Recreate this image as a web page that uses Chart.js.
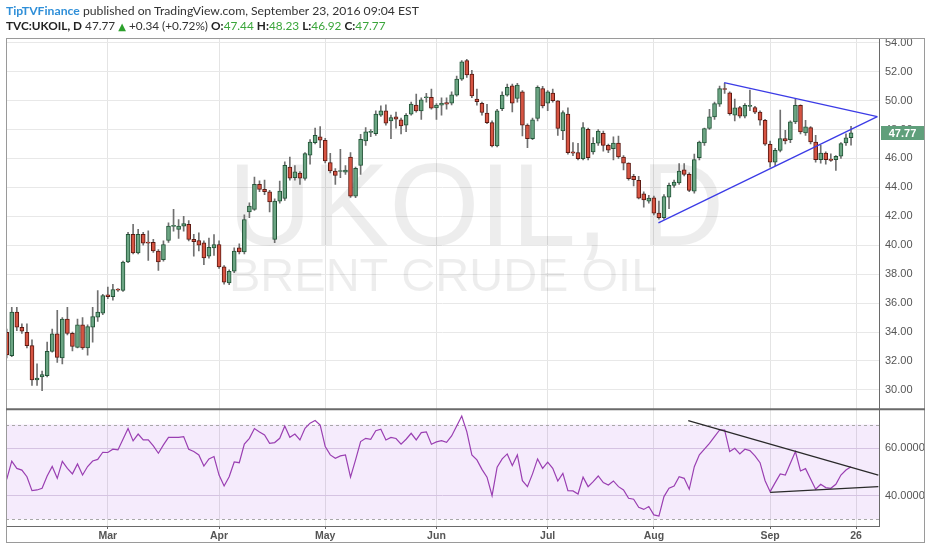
<!DOCTYPE html>
<html>
<head>
<meta charset="utf-8">
<script src="https://cdn.jsdelivr.net/npm/chart.js@4.4.0/dist/chart.umd.min.js"></script>
<style>
  html, body { margin: 0; padding: 0; background: #fff; }
  #wrap { position: relative; width: 932px; height: 550px; overflow: hidden; background: #fff; }
  #c { position: absolute; left: 0; top: 0; }
  .hdr { position: absolute; left: 6px; white-space: nowrap; font-family: Lato, "Open Sans", sans-serif; color: #333; }
  #h1 { top: 3px; font-size: 12.2px; }
  #h2 { top: 18px; font-size: 11.8px; }
  .tv { color: #2f8fd8; font-weight: 700; }
  .g { color: #3aa53a; }
  .tri { color: #2ca02c; font-family: "DejaVu Sans", sans-serif; font-size: 10px; }
  b { font-weight: 700; color: #222; }
</style>
</head>
<body>
<div id="wrap">
  <canvas id="c" width="932" height="550"></canvas>
  <div class="hdr" id="h1"><span class="tv">TipTVFinance</span> published on TradingView.com, September 23, 2016 09:04 EST</div>
  <div class="hdr" id="h2"><b>TVC:UKOIL, D</b> 47.77 <span class="tri">▲</span> +0.34 (+0.72%) <b>O:</b><span class="g">47.44</span> <b>H:</b><span class="g">48.23</span> <b>L:</b><span class="g">46.92</span> <b>C:</b><span class="g">47.77</span></div>
</div>
<script>
// daily bars, 2 Feb 2016 .. 23 Sep 2016 (index 0 = first bar)
const tickIdx = [20, 42, 63, 85, 107, 128, 151, 168];
const tickLabels = ['Mar', 'Apr', 'May', 'Jun', 'Jul', 'Aug', 'Sep', '26'];
const priceTicks = [30, 32, 34, 36, 38, 40, 42, 44, 46, 48, 50, 52, 54];
const rsiTicks = [40, 60];

const openP = [33.98,32.36,35.37,34.33,33.98,33.06,30.68,30.90,30.98,32.66,
  33.87,32.20,34.90,33.90,32.94,34.49,32.90,34.33,35.02,35.30,
  36.57,36.45,36.94,36.87,38.84,40.75,39.46,40.75,40.20,40.20,
  39.60,39.00,40.33,41.30,41.10,41.32,41.44,40.40,40.33,40.17,
  39.24,39.82,40.05,38.50,37.40,38.20,39.82,39.54,42.31,42.48,
  44.21,43.86,43.70,40.40,43.05,43.24,45.41,44.67,44.99,44.62,
  46.22,47.10,47.49,47.26,45.71,45.13,45.10,45.06,46.10,43.40,
  45.52,47.21,47.80,47.72,48.99,49.29,48.60,48.88,48.67,48.30,
  49.06,49.69,49.29,50.20,50.22,49.50,49.69,49.87,49.82,50.38,
  51.49,52.76,51.84,50.10,49.82,49.13,48.48,46.87,49.45,50.38,
  51.03,50.15,50.61,48.30,47.37,48.76,50.84,49.82,50.52,49.99,
  47.90,49.06,46.45,46.40,45.99,48.02,46.45,47.05,47.74,46.91,
  46.68,47.07,46.10,45.68,44.76,44.48,43.56,43.05,43.28,42.22,
  41.90,43.33,44.14,44.30,45.22,44.90,43.74,46.05,47.07,48.07,
  48.87,49.75,50.84,50.54,49.00,49.52,48.92,49.60,49.52,49.20,
  48.64,46.98,45.75,46.56,47.37,47.30,48.53,49.68,47.76,48.13,
  47.14,45.92,46.38,45.96,45.92,46.15,47.07,47.44];
const highP = [34.20,35.70,35.70,34.56,34.56,33.45,31.80,31.30,33.30,34.20,
  35.50,35.00,35.70,34.00,34.90,34.99,34.50,35.70,36.87,36.60,
  37.10,37.30,37.00,38.90,40.90,41.45,41.10,40.90,41.00,40.40,
  39.70,40.30,41.55,42.48,41.78,42.00,41.70,40.75,40.86,40.30,
  40.50,40.74,40.30,38.60,38.30,39.82,40.10,42.10,42.94,44.72,
  44.45,44.50,43.80,43.20,44.44,45.76,46.10,45.50,45.10,46.40,
  47.30,48.10,48.20,47.40,46.36,45.30,46.63,45.50,46.40,45.40,
  47.67,48.14,48.00,49.29,49.64,49.70,49.00,49.20,48.80,49.10,
  49.90,50.45,50.20,50.50,50.80,49.80,50.20,50.20,50.60,51.70,
  52.76,52.85,52.10,50.80,49.90,49.75,48.60,49.40,50.60,51.14,
  51.14,51.20,50.70,48.40,48.80,51.03,50.98,50.70,50.80,50.00,
  49.30,49.50,47.10,47.05,48.48,48.10,47.45,48.00,47.90,47.00,
  47.50,47.55,46.20,45.70,44.90,44.76,43.70,43.45,43.40,43.05,
  43.50,44.30,44.50,45.64,45.64,45.00,46.30,47.20,48.10,49.40,
  49.90,51.00,51.20,50.60,50.10,49.60,49.80,50.72,49.60,49.30,
  48.70,47.20,46.70,49.34,47.95,48.60,50.08,49.70,48.64,48.20,
  47.60,46.90,46.45,46.32,46.20,47.10,47.70,48.23];
const lowP = [32.20,32.30,34.10,33.90,32.90,30.30,30.30,29.94,30.90,32.60,
  31.90,31.80,33.80,32.70,32.90,32.80,32.40,33.30,34.74,35.20,
  36.30,36.20,36.80,36.80,38.80,39.40,39.40,40.00,38.95,39.50,
  38.25,38.90,40.20,40.98,40.47,40.98,40.30,39.24,39.60,38.66,
  39.10,39.30,38.40,37.30,37.28,38.10,39.40,39.40,41.90,42.40,
  43.70,43.50,42.30,40.17,42.90,43.10,44.50,44.50,44.20,44.50,
  45.60,47.00,46.75,45.70,45.00,44.21,44.67,44.90,43.30,43.28,
  44.90,46.90,47.50,47.60,48.90,48.30,47.37,48.10,47.70,47.85,
  49.00,49.20,48.70,49.90,49.40,48.70,49.00,49.40,49.70,50.30,
  51.40,51.60,50.20,49.69,49.00,48.40,46.80,46.80,49.30,50.30,
  49.22,49.90,47.56,46.75,47.30,48.60,49.50,49.30,49.90,47.60,
  47.30,46.30,46.20,45.90,45.90,45.90,46.30,46.90,46.50,46.40,
  45.90,46.00,45.20,44.50,44.10,43.20,42.63,42.90,42.10,41.80,
  41.80,42.52,44.00,44.20,44.80,43.70,43.60,45.90,46.90,48.00,
  48.70,49.60,50.50,49.00,48.60,48.80,48.80,49.30,49.10,48.30,
  46.90,45.40,45.50,46.45,47.00,47.10,48.40,47.70,47.60,47.00,
  45.75,45.68,45.60,45.80,45.17,46.00,46.90,46.92];
const closeP = [32.41,35.37,34.33,34.05,33.06,30.68,30.82,31.05,32.66,33.87,
  32.25,34.90,33.90,33.00,34.49,32.90,34.37,35.07,35.37,36.52,
  36.45,36.94,36.90,38.84,40.75,39.46,40.75,40.15,40.15,39.60,
  38.85,40.05,41.32,41.32,41.32,41.50,40.40,40.24,40.00,39.13,
  39.86,40.04,38.50,37.44,38.20,39.59,39.54,41.78,42.70,44.21,
  43.86,43.70,42.99,43.05,43.75,45.53,44.63,45.07,44.63,46.33,
  47.14,47.60,47.26,45.83,45.13,44.83,45.13,45.20,43.40,45.32,
  47.33,47.84,47.85,49.06,49.29,48.44,48.83,48.72,48.25,48.99,
  49.76,49.29,50.06,50.22,49.48,49.69,49.82,49.75,50.40,51.49,
  52.69,51.77,50.33,49.92,49.18,48.48,46.87,49.29,50.38,50.91,
  49.82,51.07,48.30,47.37,48.67,50.91,49.64,50.61,49.99,48.07,
  49.18,46.40,46.36,45.99,48.14,46.06,47.05,47.90,46.91,46.58,
  47.07,46.10,45.68,44.60,44.53,43.26,43.14,43.26,42.22,41.90,
  43.37,44.14,44.37,45.13,44.90,43.79,45.92,47.14,48.07,48.87,
  49.80,50.84,50.77,49.10,49.50,48.92,49.68,49.62,49.20,48.64,
  46.98,45.75,46.56,47.37,47.21,48.53,49.68,47.83,48.18,47.14,
  45.92,46.38,45.92,45.87,46.15,47.03,47.43,47.77];
const rsi = [46.9,54.6,51.5,50.8,48.0,42.1,42.4,43.1,48.3,52.3,
  47.3,54.5,51.5,49.2,53.4,48.7,52.3,54.6,55.3,58.3,
  58.2,59.6,59.3,63.8,68.3,63.1,66.0,63.5,63.5,61.0,
  57.9,61.4,64.6,64.6,64.6,64.9,59.6,58.6,57.2,52.5,
  55.5,56.5,48.7,44.1,48.0,54.2,53.9,61.8,64.2,68.3,
  66.9,65.6,62.1,62.4,64.2,69.4,64.6,66.0,63.5,68.4,
  70.6,71.7,69.8,60.7,57.2,55.8,56.8,57.2,47.8,55.1,
  62.8,64.2,63.8,67.4,68.0,63.5,64.6,64.1,61.7,63.8,
  66.3,63.5,66.6,66.9,61.7,62.7,63.2,62.5,65.2,69.4,
  73.6,67.0,57.2,55.1,51.1,47.8,40.0,52.0,55.5,57.6,
  52.7,57.2,46.3,43.8,49.2,55.5,51.5,54.1,51.5,46.2,
  49.4,42.1,42.0,40.7,47.8,43.8,45.9,48.3,45.5,44.5,
  46.2,43.8,42.4,38.9,38.5,35.1,34.2,35.4,31.9,31.4,
  39.6,43.1,44.1,48.0,47.3,42.7,52.2,57.2,59.6,62.1,
  64.9,67.7,67.7,58.6,60.0,57.6,59.6,59.0,56.8,53.9,
  46.3,41.7,45.5,49.2,48.7,53.7,58.6,50.4,51.4,47.0,
  42.7,44.8,43.4,43.1,44.8,48.7,50.8,52.2];

// drawn trend lines: [bar index, value]
const triUpper = [[141.9, 51.25], [172.2, 48.89]];
const triLower = [[128.9, 41.54], [172.2, 48.89]];
const rsiUpper = [[134.8, 71.6], [172.4, 48.7]];
const rsiLower = [[151.0, 41.4], [172.4, 43.8]];

const idx = closeP.map((_, i) => i);
const isUp = idx.map(i => closeP[i] >= openP[i]);
const pts = a => a.map(p => ({ x: p[0], y: p[1] }));

const panelPlugin = {
  id: 'panels',
  beforeDatasetsDraw(chart) {
    const { ctx, chartArea: a } = chart;
    const r = chart.scales.rsi;
    const y70 = r.getPixelForValue(70), y30 = r.getPixelForValue(30);
    ctx.save();
    ctx.fillStyle = 'rgba(160, 60, 230, 0.10)';
    ctx.fillRect(a.left, y70, a.width, y30 - y70);
    ctx.strokeStyle = '#a8a8a8';
    ctx.setLineDash([3, 3]);
    ctx.lineWidth = 1;
    [y70, y30].forEach(y => {
      ctx.beginPath();
      ctx.moveTo(a.left, Math.round(y) + 0.5);
      ctx.lineTo(a.right, Math.round(y) + 0.5);
      ctx.stroke();
    });
    ctx.setLineDash([]);
    // watermark
    ctx.fillStyle = 'rgba(0, 0, 0, 0.07)';
    ctx.textBaseline = 'alphabetic';
    ctx.font = '116px "Liberation Sans", Arial, sans-serif';
    ctx.fillText('UKOIL, D', 228, 245);
    ctx.font = '47px "Liberation Sans", Arial, sans-serif';
    ctx.fillText('BRENT CRUDE OIL', 229, 291);
    ctx.restore();
  },
  afterDraw(chart) {
    const { ctx, chartArea: a } = chart;
    const y = chart.scales.y;
    ctx.save();
    ctx.strokeStyle = '#9a9a9a';
    ctx.lineWidth = 1;
    ctx.strokeRect(6.5, 38.5, 918, 504);
    ctx.strokeStyle = '#6a6a6a';
    ctx.lineWidth = 2;
    ctx.beginPath();
    ctx.moveTo(a.left, y.bottom);
    ctx.lineTo(925, y.bottom);
    ctx.stroke();
    // last price tag
    const last = closeP[closeP.length - 1];
    const py = y.getPixelForValue(last);
    ctx.fillStyle = '#5f9f7b';
    ctx.fillRect(881, Math.round(py) - 7, 43, 14);
    ctx.fillStyle = '#fff';
    ctx.font = 'bold 11px "Liberation Sans", Arial, sans-serif';
    ctx.textAlign = 'center';
    ctx.textBaseline = 'middle';
    ctx.fillText(last.toFixed(2), 902.5, Math.round(py) + 0.5);
    ctx.restore();
  }
};

new Chart(document.getElementById('c'), {
  type: 'bar',
  data: {
    datasets: [
      {
        label: 'wicks', yAxisID: 'y', order: 4, grouped: false, clip: 0,
        data: idx.map(i => ({ x: i, y: [lowP[i], highP[i]] })),
        backgroundColor: '#707070', barThickness: 1, borderWidth: 0
      },
      {
        label: 'bodies', yAxisID: 'y', order: 3, grouped: false, clip: 0,
        data: idx.map(i => ({ x: i, y: [openP[i], closeP[i]] })),
        backgroundColor: idx.map(i => isUp[i] ? '#6ba583' : '#d75442'),
        borderColor: idx.map(i => isUp[i] ? '#225437' : '#5b1a13'),
        borderWidth: 1, borderSkipped: false, barThickness: 4, minBarLength: 1
      },
      {
        type: 'line', label: 'RSI', yAxisID: 'rsi', order: 1, clip: 0,
        data: idx.map(i => ({ x: i, y: rsi[i] })),
        borderColor: '#9a3fb2', borderWidth: 1.2, pointRadius: 0, tension: 0
      },
      {
        type: 'line', yAxisID: 'y', order: 0, clip: 0, data: pts(triUpper),
        borderColor: '#3b3be6', borderWidth: 1.3, pointRadius: 0
      },
      {
        type: 'line', yAxisID: 'y', order: 0, clip: 0, data: pts(triLower),
        borderColor: '#3b3be6', borderWidth: 1.3, pointRadius: 0
      },
      {
        type: 'line', yAxisID: 'rsi', order: 0, clip: 0, data: pts(rsiUpper),
        borderColor: '#2a2a2a', borderWidth: 1.3, pointRadius: 0
      },
      {
        type: 'line', yAxisID: 'rsi', order: 0, clip: 0, data: pts(rsiLower),
        borderColor: '#2a2a2a', borderWidth: 1.3, pointRadius: 0
      }
    ]
  },
  options: {
    responsive: false,
    animation: false,
    layout: { padding: { left: 6, top: 39, right: 7, bottom: 7 } },
    plugins: { legend: { display: false }, tooltip: { enabled: false } },
    scales: {
      x: {
        type: 'linear', min: -0.14, max: 172.53, offset: false,
        grid: { color: '#e4e4e4', offset: false, tickLength: 3, tickColor: '#666' },
        border: { color: '#6a6a6a' },
        ticks: {
          color: '#555', padding: 1, autoSkip: false, maxRotation: 0,
          font: { family: '"Liberation Sans", Arial, sans-serif', size: 10.5, weight: 'bold' },
          callback: v => { const k = tickIdx.indexOf(v); return k >= 0 ? tickLabels[k] : ''; }
        },
        afterBuildTicks: s => { s.ticks = tickIdx.map(v => ({ value: v })); },
        afterFit: s => { s.height = 17; }
      },
      y: {
        type: 'linear', position: 'right', stack: 'p', stackWeight: 370,
        min: 28.66, max: 54.26, offset: false,
        grid: { color: '#e8e8e8', drawTicks: false },
        border: { color: '#6a6a6a' },
        ticks: {
          color: '#555', padding: 6, autoSkip: false,
          font: { family: '"Liberation Sans", Arial, sans-serif', size: 11 },
          callback: v => v.toFixed(2)
        },
        afterBuildTicks: s => { s.ticks = priceTicks.map(v => ({ value: v })); },
        afterFit: s => { s.width = 46; }
      },
      rsi: {
        axis: 'y', type: 'linear', position: 'right', stack: 'p', stackWeight: 116.7,
        min: 27.2, max: 76.46, offset: false,
        grid: { color: '#dcd3e2', drawTicks: false },
        border: { color: '#6a6a6a' },
        ticks: {
          color: '#555', padding: 6, autoSkip: false,
          font: { family: '"Liberation Sans", Arial, sans-serif', size: 11 },
          callback: v => v.toFixed(4)
        },
        afterBuildTicks: s => { s.ticks = rsiTicks.map(v => ({ value: v })); },
        afterFit: s => { s.width = 46; }
      }
    }
  },
  plugins: [panelPlugin]
});
</script>
</body>
</html>
